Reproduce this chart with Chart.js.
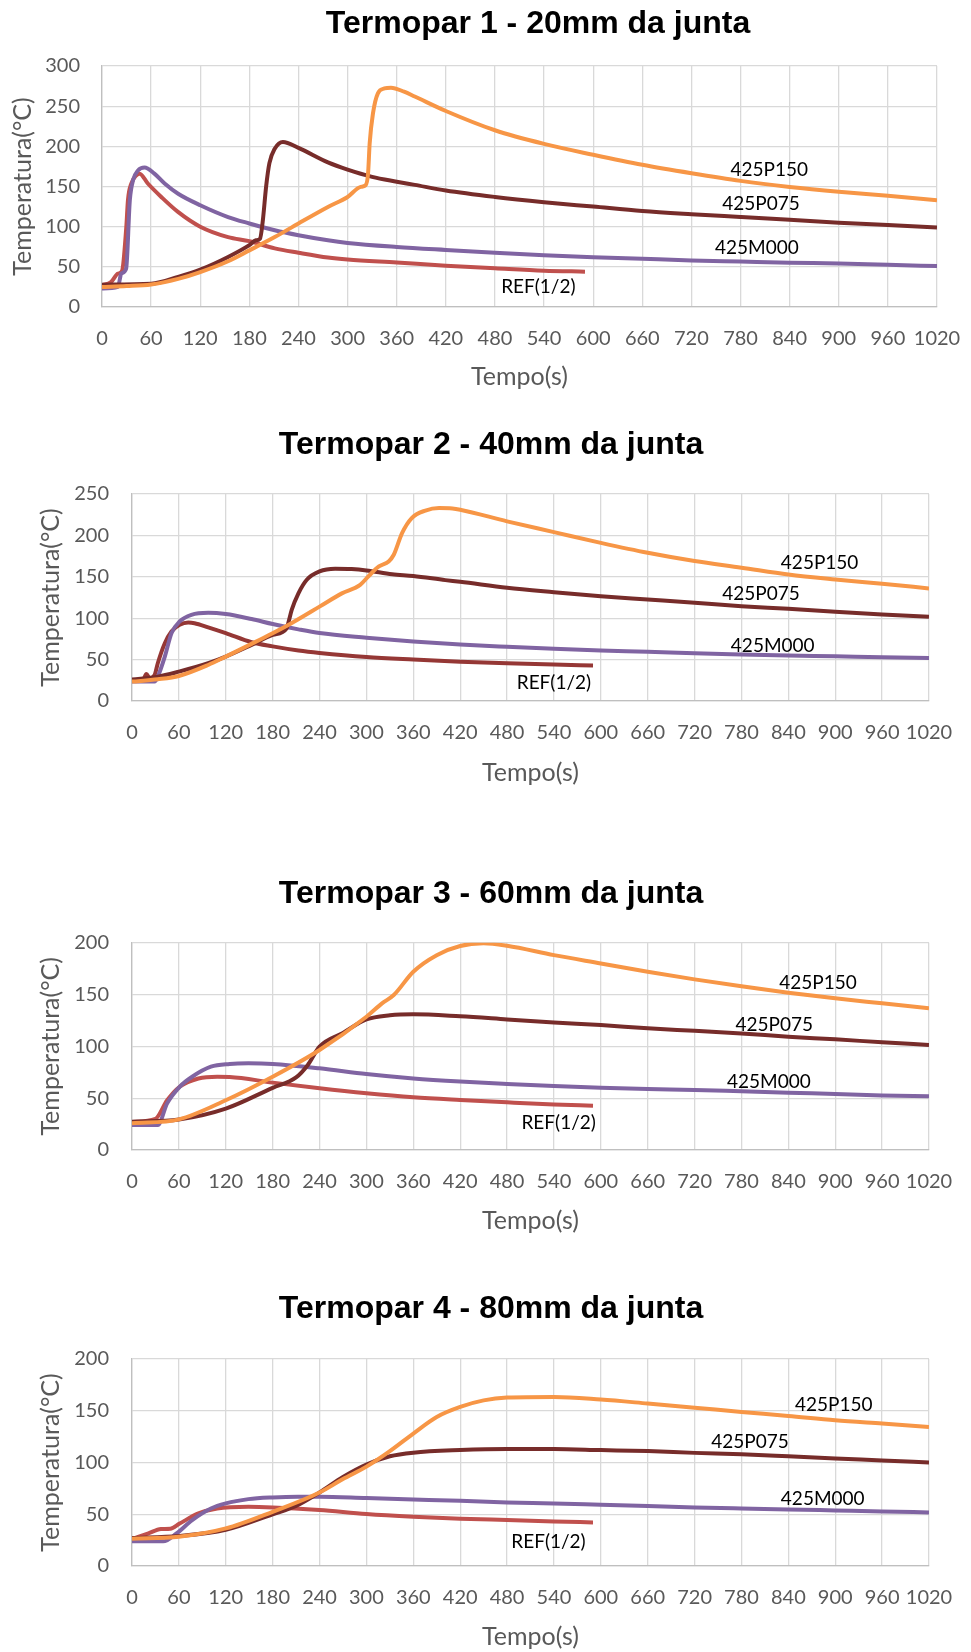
<!DOCTYPE html>
<html>
<head>
<meta charset="utf-8">
<title>Termopares</title>
<script src="https://cdn.jsdelivr.net/npm/chart.js@4.4.1/dist/chart.umd.min.js"></script>
<style>
  body { margin: 0; background: #ffffff; }
  canvas { position: absolute; left: 0; }
</style>
</head>
<body>
<canvas id="tc1" width="971" height="400" style="top:0px"></canvas>
<canvas id="tc2" width="971" height="420" style="top:400px"></canvas>
<canvas id="tc3" width="971" height="400" style="top:840px"></canvas>
<canvas id="tc4" width="971" height="412" style="top:1240px"></canvas>
<script>
// curves: [tempo (s), temperatura (°C)]
const tc1P150 = [[0, 25], [30, 26], [60, 28], [93, 35], [120, 43.5], [154, 57], [180, 70.5], [211, 87], [240, 104], [276, 124.5], [300, 137], [316, 149.5], [322, 151.5], [325, 166], [327, 204], [331, 241], [337, 266], [345, 272], [353, 273], [369, 268], [382, 262], [420, 244], [480, 220], [540, 203], [600, 189.5], [660, 177], [720, 166.5], [780, 157], [840, 149.5], [900, 143.5], [960, 138.5], [1020, 133]];
const tc1P075 = [[0, 27.8], [60, 29], [93, 37.4], [120, 46.5], [154, 62.3], [180, 77], [188, 83], [193, 85], [196.5, 108], [200.5, 150], [204.5, 179], [211, 197], [221, 205.5], [240, 198], [276, 180], [300, 171], [330, 162], [360, 156], [382, 152], [420, 145], [480, 137], [540, 130.5], [600, 125], [660, 119.5], [720, 115.5], [780, 112], [840, 108.5], [900, 105], [960, 102], [1020, 99]];
const tc1M000 = [[0, 23], [19.5, 25], [23.5, 41.5], [29.5, 47.8], [34, 133], [38, 158], [44, 170], [52, 173.5], [64, 166], [76.5, 153.7], [93, 141], [120, 126.7], [154, 112], [180, 104], [211, 95.5], [240, 89.3], [276, 83], [300, 79.8], [360, 74.8], [420, 71], [480, 67.5], [540, 64.5], [600, 62], [660, 60], [720, 58], [780, 56.5], [840, 55], [900, 54.3], [960, 52.5], [1020, 51]];
const tc1Ref = [[0, 27], [11, 31], [19.5, 41.5], [24.5, 45], [29.7, 99.7], [31.7, 133], [35.8, 153.7], [42, 164], [46, 166], [56, 153.7], [72.4, 137], [92.8, 118.4], [120, 100], [154, 87], [180, 82], [211, 73], [240, 67.5], [276, 61.5], [300, 59], [360, 55.3], [420, 51.4], [480, 48.2], [540, 45.2], [590, 44]];

const tc2P150 = [[0, 23.4], [33, 26.2], [60, 30.2], [97.5, 43.5], [120, 53.6], [153, 69], [180, 81.9], [204, 94], [240, 114], [268.6, 130], [292, 140.3], [303, 151], [316, 162.5], [328.5, 168.5], [335, 176.6], [345.6, 202.8], [358, 221], [375.5, 230], [393, 233], [410, 232.5], [420, 231], [480, 217], [540, 204], [600, 191], [660, 179], [720, 169], [780, 161], [840, 152.7], [900, 146.7], [960, 141.5], [1020, 136]];
const tc2P075 = [[0, 26], [33, 29.4], [60, 35.5], [97.5, 45.6], [120, 53.6], [153, 67.7], [180, 79.8], [198, 87.9], [200, 94], [204.4, 110], [213, 130], [223.7, 146.4], [240, 156.5], [260, 159.7], [281, 159.3], [300, 157.7], [333, 153], [360, 151], [401, 146], [420, 144], [480, 136.7], [540, 131.4], [600, 126.6], [660, 122.6], [720, 118.6], [780, 114.5], [840, 111.3], [900, 107.7], [960, 104.5], [1020, 101.7]];
const tc2M000 = [[0, 23.4], [29, 23.4], [33, 29.4], [42, 53.6], [50.5, 81.9], [61, 96], [76, 104], [97.5, 106.5], [120, 105], [153, 99], [180, 93], [213, 86.5], [240, 82], [300, 76.5], [360, 72], [420, 68.3], [480, 65.5], [540, 63], [600, 61], [660, 59.5], [720, 57.7], [780, 56.3], [840, 55], [900, 53.9], [960, 52.7], [1020, 51.8]];
const tc2Ref = [[0, 25.4], [14, 25.4], [18.4, 32.7], [22.7, 27.4], [29, 31.5], [33, 45.6], [42, 69.8], [50.5, 83.9], [61, 92], [72, 94.8], [80, 94], [97.5, 89], [120, 82], [153, 71], [180, 66], [213, 61], [240, 58], [300, 53], [360, 50], [420, 47.5], [480, 45.5], [540, 44], [590, 43]];

const tc3P150 = [[0, 25.7], [60, 29.6], [120, 48], [180, 70.7], [240, 96.5], [300, 128.6], [320, 141.5], [335, 149.5], [360, 172], [390, 188], [420, 196.8], [450, 199.4], [480, 197], [540, 188], [600, 180], [660, 172], [720, 164.6], [780, 158], [840, 151.8], [900, 146.3], [960, 141.5], [1020, 136.7]];
const tc3P075 = [[0, 27.3], [60, 29.5], [120, 40], [180, 60], [210, 70], [225, 82], [240, 99.7], [270, 113], [300, 126], [330, 130], [360, 131], [420, 129], [480, 126], [540, 123], [600, 120.6], [660, 117.4], [720, 115], [780, 112.5], [840, 109.3], [900, 106.8], [960, 103.9], [1020, 101.3]];
const tc3M000 = [[0, 24], [33, 24], [45, 45], [61, 61], [77, 70.7], [101, 80.4], [125, 83], [149, 83.6], [180, 83], [240, 78.8], [300, 73.3], [360, 69], [420, 66], [480, 63.7], [540, 61.7], [600, 60], [660, 58.8], [720, 57.9], [780, 56.6], [840, 55.3], [900, 54], [960, 52.7], [1020, 51.8]];
const tc3Ref = [[0, 27], [30, 30], [45, 48], [61, 61], [85, 69], [109, 70.7], [125, 70.5], [180, 65], [240, 59.5], [300, 54.7], [360, 50.8], [420, 48.2], [480, 46], [540, 44], [590, 42.8]];

const tc4P150 = [[0, 26.4], [60, 28.3], [120, 36.3], [180, 52.4], [240, 71], [270, 84], [300, 96], [330, 111], [360, 128], [390, 144], [420, 153.7], [450, 160], [480, 162.7], [540, 163.3], [600, 160.8], [660, 157], [720, 153], [780, 148.9], [840, 145], [900, 140.8], [960, 137.6], [1020, 134.4]];
const tc4P075 = [[0, 27], [60, 29], [120, 35], [180, 50], [210, 58], [240, 71], [270, 86], [300, 98], [330, 106], [360, 109.5], [420, 112], [480, 113], [540, 113], [600, 112], [660, 111], [720, 109.3], [780, 108], [840, 106], [900, 103.9], [960, 102], [1020, 100]];
const tc4M000 = [[0, 23.8], [40, 23.8], [57, 31.5], [77, 44.4], [101, 55.6], [120, 60.5], [149, 64.6], [180, 66.3], [212, 67], [240, 66.9], [300, 65.6], [360, 64.3], [420, 63], [480, 61.4], [540, 60.5], [600, 59.2], [660, 57.9], [720, 56.6], [780, 55.6], [840, 54.7], [900, 53.7], [960, 52.7], [1020, 51.8]];
const tc4Ref = [[0, 26], [21, 31.5], [37, 35.7], [49, 36], [61, 41], [85, 50.8], [109, 55.6], [149, 57.2], [180, 56.6], [240, 54], [300, 50.2], [360, 47.6], [420, 45.7], [480, 44.4], [540, 43.1], [590, 42.1]];

// where each series name sits, in [tempo, temperatura]
const tc1Labels = [[815, 170.5], [805, 128], [800, 73], [533, 25.3]];
const tc2Labels = [[880, 167], [805, 129], [820, 66.4], [540, 22]];
const tc3Labels = [[878, 161.4], [822, 121.2], [815, 65.3], [546, 26.4]];
const tc4Labels = [[898, 155.3], [791, 120], [884, 65.3], [533, 23.5]];

const seriesNames = ["425P150", "425P075", "425M000", "REF(1/2)"];
const chartTitles = ["Termopar 1 - 20mm da junta", "Termopar 2 - 40mm da junta", "Termopar 3 - 60mm da junta", "Termopar 4 - 80mm da junta"];
const tempMax = [300, 250, 200, 200];
const tempStep = 50;
const timeMax = 1020;
const timeStep = 60;

const allSeries = [
  [tc1P150, tc1P075, tc1M000, tc1Ref],
  [tc2P150, tc2P075, tc2M000, tc2Ref],
  [tc3P150, tc3P075, tc3M000, tc3Ref],
  [tc4P150, tc4P075, tc4M000, tc4Ref],
];
const allLabels = [tc1Labels, tc2Labels, tc3Labels, tc4Labels];

// page geometry of each chart (px)
const frames = [
  { top: 0, height: 400, left: 102, right: 937, plotTop: 66, plotBottom: 307, titleX: 538, titleY: 33, xTitleY: 377, yTitleX: 22.5, yLabelRight: 80, refColor: "#C0504D" },
  { top: 400, height: 420, left: 132, right: 929, plotTop: 494, plotBottom: 701, titleX: 491, titleY: 454, xTitleY: 773, yTitleX: 51, yLabelRight: 109, refColor: "#953735" },
  { top: 840, height: 400, left: 132, right: 929, plotTop: 942.7, plotBottom: 1150, titleX: 491, titleY: 902.7, xTitleY: 1221, yTitleX: 51, yLabelRight: 109, refColor: "#C0504D" },
  { top: 1240, height: 412, left: 132, right: 929, plotTop: 1359, plotBottom: 1566, titleX: 491, titleY: 1318.3, xTitleY: 1637, yTitleX: 51, yLabelRight: 109, refColor: "#C0504D" },
];

const fontFamily = "Lato, 'Open Sans', sans-serif";
const tickSize = 20;
const axisTitleSize = 25;

const titlePlugin = {
  id: "termoparTitle",
  afterDraw(chart, args, opts) {
    const ctx = chart.ctx;
    ctx.save();
    ctx.font = "bold 32px 'Liberation Sans', Arial, sans-serif";
    ctx.fillStyle = "#000000";
    ctx.textAlign = "center";
    ctx.textBaseline = "alphabetic";
    ctx.fillText(opts.text, opts.x, opts.y);
    ctx.restore();
  },
};

const seriesLabelPlugin = {
  id: "seriesLabels",
  afterDatasetsDraw(chart, args, opts) {
    const { ctx, scales } = chart;
    ctx.save();
    ctx.font = "19px " + fontFamily;
    ctx.fillStyle = "#000000";
    ctx.textAlign = "center";
    ctx.textBaseline = "middle";
    opts.spots.forEach((spot, i) => {
      ctx.fillText(seriesNames[i], scales.x.getPixelForValue(spot[0]), scales.y.getPixelForValue(spot[1]));
    });
    ctx.restore();
  },
};

function toPoints(pairs) {
  return pairs.map((p) => ({ x: p[0], y: p[1] }));
}

function makeChart(index) {
  const f = frames[index];
  const series = allSeries[index];
  const colors = ["#F79646", "#772C2A", "#8064A2", f.refColor];
  const plotTop = f.plotTop - f.top;
  const plotBottom = f.plotBottom - f.top;
  const xAxisHeight = f.xTitleY - f.plotBottom + (axisTitleSize * 1.2) / 2;

  return new Chart(document.getElementById("tc" + (index + 1)).getContext("2d"), {
    type: "line",
    plugins: [titlePlugin, seriesLabelPlugin],
    data: {
      datasets: series.map((s, i) => ({
        label: seriesNames[i],
        data: toPoints(s),
        borderColor: colors[i],
        borderWidth: 4,
        pointRadius: 0,
        fill: false,
        cubicInterpolationMode: "monotone",
      })),
    },
    options: {
      responsive: false,
      animation: false,
      devicePixelRatio: 1,
      layout: {
        padding: {
          left: 0,
          top: plotTop,
          right: 971 - f.right,
          bottom: f.height - plotBottom - xAxisHeight,
        },
      },
      plugins: {
        legend: { display: false },
        tooltip: { enabled: false },
        termoparTitle: { text: chartTitles[index], x: f.titleX, y: f.titleY - f.top },
        seriesLabels: { spots: allLabels[index] },
      },
      scales: {
        x: {
          type: "linear",
          min: 0,
          max: timeMax,
          afterFit: (scale) => {
            scale.height = xAxisHeight;
            scale.paddingLeft = 0;
            scale.paddingRight = 0;
          },
          ticks: {
            stepSize: timeStep,
            autoSkip: false,
            maxRotation: 0,
            padding: 19.5,
            color: "#595959",
            font: { family: fontFamily, size: tickSize, lineHeight: 1.2 },
            callback: (value) => String(value),
          },
          grid: { color: "#D9D9D9", lineWidth: 1.3, drawTicks: false },
          border: { color: "#BFBFBF", width: 1.3 },
          title: {
            display: true,
            text: "Tempo(s)",
            color: "#595959",
            padding: 0,
            font: { family: fontFamily, size: axisTitleSize, lineHeight: 1.2 },
          },
        },
        y: {
          min: 0,
          max: tempMax[index],
          afterFit: (scale) => {
            scale.width = f.left;
            scale.paddingTop = 0;
            scale.paddingBottom = 0;
          },
          ticks: {
            stepSize: tempStep,
            padding: f.left - f.yLabelRight,
            color: "#595959",
            font: { family: fontFamily, size: tickSize, lineHeight: 1.2 },
          },
          grid: { color: "#D9D9D9", lineWidth: 1.3, drawTicks: false },
          border: { color: "#BFBFBF", width: 1.3 },
          title: {
            display: true,
            text: "Temperatura(°C)",
            color: "#595959",
            padding: { top: f.yTitleX - (axisTitleSize * 1.2) / 2, bottom: 0 },
            font: { family: fontFamily, size: axisTitleSize, lineHeight: 1.2 },
          },
        },
      },
    },
  });
}

function initialize() {
  for (let i = 0; i < frames.length; i++) {
    makeChart(i);
  }
}

initialize();
</script>
</body>
</html>
